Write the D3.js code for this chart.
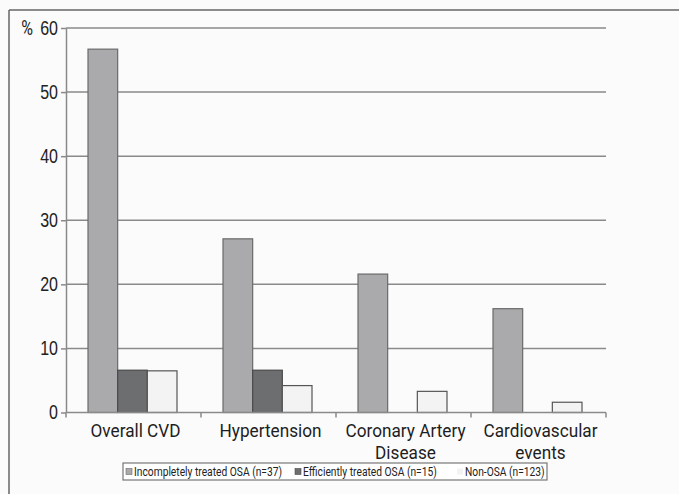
<!DOCTYPE html>
<html>
<head>
<meta charset="utf-8">
<script src="https://cdn.jsdelivr.net/npm/d3@7"></script>
<style>
    body { margin: 0; background: #fbfbfb; }
    svg { display: block; font-family: "Liberation Sans Narrow", "Roboto", sans-serif; }
</style>
</head>
<body>
<div id="chart"></div>
<script>
const categories = ["Overall CVD", "Hypertension", "Coronary Artery Disease", "Cardiovascular events"];
const categoryLines = [["Overall CVD"], ["Hypertension"], ["Coronary Artery", "Disease"], ["Cardiovascular", "events"]];
const seriesNames = ["Incompletely treated OSA (n=37)", "Efficiently treated OSA (n=15)", "Non-OSA (n=123)"];
const incompletely = [56.7, 27.1, 21.6, 16.2];
const efficiently = [6.6, 6.6, 0, 0];
const nonOsa = [6.5, 4.2, 3.3, 1.6];
const yTicks = [0, 10, 20, 30, 40, 50, 60];

const width = 679, height = 494;
const colors = ["#aaaaac", "#6d6e70", "#f3f3f3"];
const strokes = ["#6a6a6a", "#4a4a4a", "#555555"];
// horizontal squeeze to imitate the condensed typeface
const squeeze = 0.93;

const svg = d3.select("#chart").append("svg")
    .attr("width", width)
    .attr("height", height);

// Frame
svg.append("line").attr("x1", 9).attr("x2", 9).attr("y1", 10).attr("y2", height)
    .attr("stroke", "#666").attr("stroke-width", 1.5);
svg.append("line").attr("x1", 9).attr("x2", width).attr("y1", 10).attr("y2", 10)
    .attr("stroke", "#666").attr("stroke-width", 1.5);

// Scales
const x = d3.scaleBand()
    .domain(categories)
    .range([66, 606])
    .padding(0);

const xSub = d3.scaleBand()
    .domain(d3.range(3))
    .range([22, x.bandwidth() - 24])
    .padding(0);

const y = d3.scaleLinear()
    .domain([0, 60])
    .range([412.5, 28]);

// Gridlines
svg.append("g")
    .selectAll("line")
    .data(yTicks.filter(d => d > 0))
    .join("line")
    .attr("x1", 66).attr("x2", 606)
    .attr("y1", d => y(d)).attr("y2", d => y(d))
    .attr("stroke", "#8a8a8a")
    .attr("stroke-width", 1.5);

// Y axis
const yAxis = svg.append("g")
    .attr("transform", "translate(66,0)")
    .call(d3.axisLeft(y).tickValues(yTicks).tickSize(5).tickSizeOuter(0).tickPadding(3));
yAxis.select(".domain").attr("stroke", "#8a8a8a").attr("stroke-width", 1.5);
yAxis.selectAll(".tick line").attr("stroke", "#8a8a8a").attr("stroke-width", 1.5);
yAxis.selectAll(".tick text")
    .attr("font-size", 20).attr("fill", "#222")
    .attr("x", 0)
    .attr("transform", "translate(-8,0) scale(0.8,1)");

svg.append("text")
    .attr("transform", "translate(33,28) scale(0.8,1)")
    .attr("dy", "0.35em")
    .attr("text-anchor", "end")
    .attr("font-size", 20).attr("fill", "#222")
    .text("%");

// Bars
const table = categories.map((c, i) => ({ cat: c, values: [incompletely[i], efficiently[i], nonOsa[i]] }));

const groups = svg.append("g")
    .selectAll("g")
    .data(table)
    .join("g")
    .attr("transform", d => `translate(${x(d.cat)},0)`);

groups.selectAll("rect")
    .data(d => d.values.map((v, k) => ({ k, v })).filter(e => e.v > 0))
    .join("rect")
    .attr("x", d => xSub(d.k))
    .attr("width", xSub.bandwidth())
    .attr("y", d => y(d.v))
    .attr("height", d => y(0) - y(d.v))
    .attr("fill", d => colors[d.k])
    .attr("stroke", d => strokes[d.k])
    .attr("stroke-width", 1.2);

// X axis
const xAxis = svg.append("g")
    .attr("transform", `translate(0,${y(0)})`);
xAxis.append("line")
    .attr("x1", 66).attr("x2", 606)
    .attr("stroke", "#8a8a8a").attr("stroke-width", 1.5);
xAxis.selectAll(".tk")
    .data(categories.map(c => x(c)).concat([606]))
    .join("line")
    .attr("class", "tk")
    .attr("x1", d => d).attr("x2", d => d)
    .attr("y1", 0).attr("y2", 5)
    .attr("stroke", "#8a8a8a").attr("stroke-width", 1.5);

// Category labels
svg.append("g")
    .selectAll("text")
    .data(categories)
    .join("text")
    .attr("transform", d => `translate(${x(d) + x.bandwidth() / 2 + 2},437) scale(${squeeze},1)`)
    .attr("text-anchor", "middle")
    .attr("font-size", 18.5)
    .attr("fill", "#1e1e1e")
    .selectAll("tspan")
    .data((d, i) => categoryLines[i])
    .join("tspan")
    .attr("x", 0)
    .attr("dy", (d, i) => i === 0 ? 0 : 22)
    .text(d => d);

// Legend
const legend = svg.append("g");
legend.append("rect")
    .attr("x", 123).attr("y", 463)
    .attr("width", 424).attr("height", 17)
    .attr("fill", "#fff")
    .attr("stroke", "#777").attr("stroke-width", 1.2);

const legendX = [126, 295, 457];
const items = legend.selectAll("g")
    .data(seriesNames)
    .join("g")
    .attr("transform", (d, i) => `translate(${legendX[i]},0)`);
items.append("rect")
    .attr("x", 0).attr("y", 468.5)
    .attr("width", 6).attr("height", 6)
    .attr("fill", (d, i) => colors[i])
    .attr("stroke", (d, i) => i === 2 ? "none" : strokes[i])
    .attr("stroke-width", 0.6);
items.append("text")
    .attr("transform", "translate(8,476) scale(0.82,1)")
    .attr("font-size", 12.5)
    .attr("fill", "#222")
    .text(d => d);
</script>
</body>
</html>
